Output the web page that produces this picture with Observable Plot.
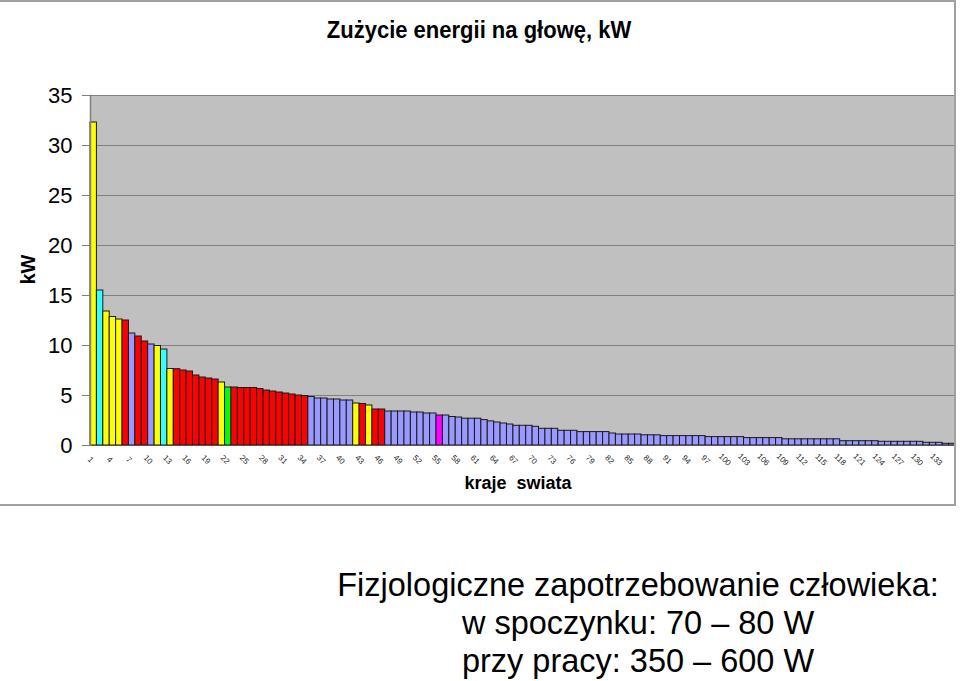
<!DOCTYPE html>
<html>
<head>
<meta charset="utf-8">
<script src="https://cdn.jsdelivr.net/npm/d3@7"></script>
<script src="https://cdn.jsdelivr.net/npm/@observablehq/plot@0.6"></script>
<style>
  html, body { margin: 0; padding: 0; background: #fff; }
  body { width: 960px; height: 681px; position: relative; overflow: hidden; font-family: "Liberation Sans", Arial, sans-serif; }
  #chart { position: absolute; left: 0; top: 0; }
  #border { position: absolute; left: -3px; top: 0; width: 957px; height: 502px; border-top: 2px solid #a0a0a0; border-bottom: 2px solid #a0a0a0; border-right: 2px solid #a0a0a0; pointer-events: none; }
  #title { position: absolute; top: 16px; left: 0; width: 958px; text-align: center; font-weight: bold; font-size: 22px; color: #000; transform: scaleY(1.12); transform-origin: center top; }
  #note { position: absolute; top: 566px; left: 288px; width: 700px; text-align: center; font-size: 32.5px; line-height: 38px; color: #000; }
</style>
</head>
<body>
<div id="chart"></div>
<div id="border"></div>
<div id="title">Zużycie energii na głowę, kW</div>
<div id="note">Fizjologiczne zapotrzebowanie człowieka:<br>w spoczynku: 70 – 80 W<br>przy pracy: 350 – 600 W</div>
<script>
// Energy use per capita (kW), countries sorted descending
const values = [
  32.3, 15.5, 13.4, 12.85, 12.6, 12.5, 11.2, 10.9, 10.4, 10.1,
  9.95, 9.6, 7.65, 7.63, 7.5, 7.4, 7.0, 6.8, 6.7, 6.6,
  6.3, 5.8, 5.8, 5.75, 5.75, 5.75, 5.65, 5.5, 5.4, 5.3,
  5.2, 5.1, 5.0, 4.95, 4.85, 4.7, 4.7, 4.6, 4.6, 4.5,
  4.5, 4.2, 4.15, 4.0, 3.6, 3.6, 3.4, 3.4, 3.4, 3.4,
  3.3, 3.3, 3.2, 3.2, 3.0, 3.0, 2.85, 2.8, 2.68, 2.68,
  2.68, 2.54, 2.41, 2.3, 2.2, 2.1, 1.97, 1.97, 1.97, 1.87,
  1.67, 1.67, 1.67, 1.47, 1.47, 1.47, 1.34, 1.34, 1.34, 1.34,
  1.34, 1.2, 1.1, 1.1, 1.1, 1.1, 1.02, 1.02, 1.02, 0.94,
  0.94, 0.94, 0.94, 0.94, 0.94, 0.94, 0.84, 0.84, 0.84, 0.84,
  0.84, 0.84, 0.74, 0.74, 0.74, 0.74, 0.74, 0.74, 0.62, 0.62,
  0.62, 0.62, 0.62, 0.62, 0.62, 0.62, 0.62, 0.43, 0.43, 0.43,
  0.43, 0.43, 0.43, 0.37, 0.37, 0.37, 0.37, 0.37, 0.37, 0.37,
  0.27, 0.27, 0.27, 0.17, 0.17
];
// colour group of each bar (Y yellow, C cyan, R red, B lavender, G green, M magenta)
const groups = (
  "YCYYYRBRRB" +
  "YCYRRRRRRR" +
  "YGRRRRRRRR" +
  "RRRRBBBBBB" +
  "BYRYRRBBBB" +
  "BBBBMBBBBB" +
  "B".repeat(75)
).split("");
const groupColors = { Y: "#ffff00", C: "#33ffff", R: "#ff0000", B: "#9999ff", G: "#00ff00", M: "#ff00ff" };
const countries = d3.range(1, values.length + 1);
const xTickLabels = d3.range(1, 134, 3);
const yTicks = [0, 5, 10, 15, 20, 25, 30, 35];

const data = countries.map((c, i) => ({ country: c, value: values[i], group: groups[i] }));

const plot = Plot.plot({
  width: 960,
  height: 505,
  marginLeft: 90,
  marginRight: 5,
  marginTop: 95,
  marginBottom: 60,
  style: { fontFamily: "'Liberation Sans', Arial, sans-serif", background: "transparent", color: "#000" },
  x: { type: "band", domain: countries, padding: 0, axis: null },
  y: { domain: [0, 35], axis: null },
  color: { domain: Object.keys(groupColors), range: Object.values(groupColors) },
  marks: [
    Plot.frame({ fill: "#c0c0c0", stroke: null }),
    Plot.gridY(yTicks, { stroke: "#808080", strokeOpacity: 1, strokeWidth: 1.2 }),
    Plot.barY(data, { x: "country", y: "value", fill: "group", stroke: "#1a1a1a", strokeWidth: 1, inset: 0 }),
    Plot.ruleY([0], { stroke: "#555", strokeWidth: 1 }),
    Plot.frame({ anchor: "left", stroke: "#808080", strokeWidth: 1.5 }),
    Plot.axisY({ ticks: yTicks, label: null, tickSize: 8, tickPadding: 10, fontSize: 22, stroke: "#808080", tickFormat: d => String(d) }),
    Plot.text(xTickLabels, { x: d => d, frameAnchor: "bottom", dy: 16, dx: -5, rotate: 45, text: d => String(d), fontSize: 8, fill: "#222", textAnchor: "middle" }),
    Plot.text(["kraje  swiata"], { frameAnchor: "bottom", dy: 43, dx: -5, text: d => d, fontSize: 18, fontWeight: "bold", fill: "#000" }),
    Plot.text(["kW"], { frameAnchor: "left", dx: -62, dy: 14, rotate: -90, text: d => d, fontSize: 20, fontWeight: "bold", fill: "#000" })
  ]
});
document.getElementById("chart").appendChild(plot);
</script>
</body>
</html>
